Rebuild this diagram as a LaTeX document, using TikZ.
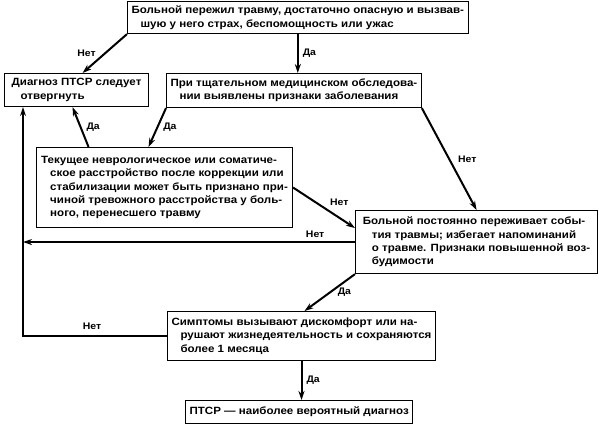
\documentclass[tikz,border=0pt]{standalone}
\usepackage{fontspec}
\setmainfont[FakeStretch=1.1]{Liberation Sans}
\usepackage{tikz}
\usetikzlibrary{arrows.meta,positioning}

\tikzset{
  blok/.style={draw, line width=1.1pt, anchor=north west, align=left,
    inner xsep=4pt, inner ysep=1pt,
    font=\bfseries\fontsize{10.5}{13.3}\selectfont},
  strelka/.style={-{Stealth[length=9pt,width=6pt]}, line width=2pt},
  metka/.style={font=\bfseries\fontsize{9.5}{10}\selectfont, inner sep=2pt}
}
\newcommand{\otstup}{\hspace*{9pt}}

\begin{document}
\begin{tikzpicture}[x=1pt, y=-1pt]
    \useasboundingbox (0,0) rectangle (599,424);

    % Boxes
    \node[blok, minimum width=333pt, minimum height=32pt] (trav) at (127,1)
      {Больной пережил травму, достаточно опасную и вызвав-\\
       \otstup шую у него страх, беспомощность или ужас};
    \node[blok, minimum width=144pt, minimum height=33pt] (otverg) at (4,73)
      {Диагноз ПТСР следует\\ \otstup отвергнуть\hspace*{48pt}};
    \node[blok, minimum width=252pt, minimum height=34pt] (obsl) at (166,73)
      {При тщательном медицинском обследова-\\
       \otstup нии выявлены признаки заболевания};
    \node[blok, minimum width=256pt, minimum height=80pt] (tek) at (36,147)
      {Текущее неврологическое или соматиче-\\
       \otstup ское расстройство после коррекции или\\
       \otstup стабилизации может быть признано при-\\
       \otstup чиной тревожного расстройства у боль-\\
       \otstup ного, перенесшего травму};
    \node[blok, minimum width=242pt, minimum height=63pt] (vozb) at (355,210)
      {Больной постоянно переживает собы-\\
       \otstup тия травмы; избегает напоминаний\\
       \otstup о травме. Признаки повышенной воз-\\
       \otstup будимости};
    \node[blok, minimum width=263pt, minimum height=49pt] (simpt) at (167,311)
      {Симптомы вызывают дискомфорт или на-\\
       \otstup рушают жизнедеятельность и сохраняются\\
       \otstup более 1 месяца};
    \node[blok, minimum width=226pt, minimum height=23pt] (ptsr) at (185,400)
      {ПТСР --- наиболее вероятный диагноз};

    \coordinate (stvol) at ([xshift=19pt]otverg.south west);

    % Connectors
    \draw[strelka] (trav.south west) -- ([xshift=6pt]otverg.north)
      node[metka, midway, left=6pt] (n1) {Нет};
    \draw[strelka] (trav.south) -- (trav.south |- obsl.north)
      node[metka, midway, right=2pt] (d1) {Да};
    \draw[strelka] (obsl.south west) -- ([xshift=-16pt]tek.north)
      node[metka, midway, right=3pt] (d2) {Да};
    \draw[strelka] ([xshift=-76pt]tek.north) -- ([xshift=-4pt]otverg.south)
      node[metka, midway, right=3pt] (d3) {Да};
    \draw[strelka] (obsl.south east) -- (vozb.north)
      node[metka, midway, right=6pt] (n2) {Нет};
    \draw[strelka] (tek.east) -- ([yshift=14pt]vozb.west)
      node[metka, pos=0.55, above right=1pt and 0pt] (n3) {Нет};
    \draw[strelka] (vozb.west) -- (vozb.west -| stvol)
      node[metka, pos=0.12, above=1pt] (n4) {Нет};
    \draw[strelka] (vozb.south west) -- ([xshift=3pt]simpt.north)
      node[metka, midway, right=5pt] (d4) {Да};
    \draw[strelka] (simpt.west) -| (stvol)
      node[metka, pos=0.26, above=3pt] (n5) {Нет};
    \draw[strelka] (simpt.south) -- (simpt.south |- ptsr.north)
      node[metka, midway, right=2pt] (d5) {Да};
\end{tikzpicture}
\end{document}
